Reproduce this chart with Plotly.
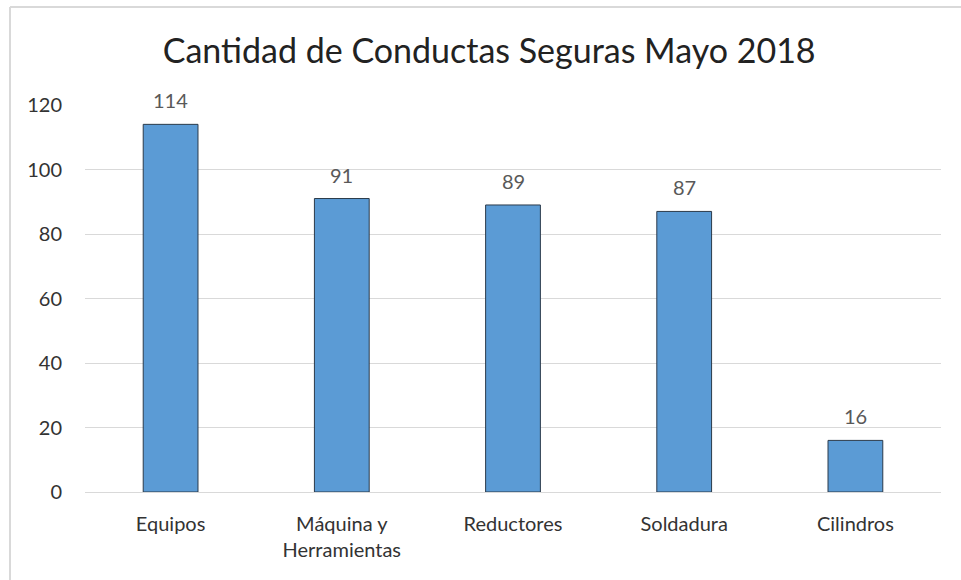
import plotly.graph_objects as go

categories = ["Equipos", "Máquina y<br>Herramientas", "Reductores", "Soldadura", "Cilindros"]
values = [114, 91, 89, 87, 16]
y_ticks = [0, 20, 40, 60, 80, 100, 120]

FONT = "Lato, Calibri, 'Open Sans', sans-serif"

fig = go.Figure(go.Bar(
    x=categories, y=values,
    marker=dict(color="#5B9BD5", line=dict(color="#2B3A4A", width=1)),
    width=0.32,
    cliponaxis=False,
))
for c, v in zip(categories, values):
    fig.add_annotation(x=c, y=v, text=str(v), showarrow=False, yanchor="bottom", yshift=10,
                       font=dict(family=FONT, size=20, color="#595959"))

x0p = (10 - 85) / 856
x1p = (961 - 85) / 856
y0p = (492 - 580) / 387
y1p = (492 - 7) / 387
fig.update_layout(
    width=961, height=580,
    margin=dict(l=85, r=20, t=105, b=88),
    paper_bgcolor="white", plot_bgcolor="white",
    title=dict(text="Cantidad de Conductas Seguras Mayo 2018", x=0.509, xanchor="center",
               y=0.912, yanchor="middle",
               font=dict(family=FONT, size=34, color="#222222")),
    showlegend=False,
    xaxis=dict(showgrid=False, showline=False, ticks="", ticklabelstandoff=18,
               tickfont=dict(family=FONT, size=20, color="#333333")),
    yaxis=dict(range=[0, 120], tickvals=y_ticks, showgrid=True, gridcolor="#D9D9D9", gridwidth=1,
               zeroline=True, zerolinecolor="#D9D9D9", zerolinewidth=1, showline=False, ticks="",
               ticklabelstandoff=22,
               tickfont=dict(family=FONT, size=20, color="#333333")),
    shapes=[
        dict(type="line", xref="paper", yref="paper", x0=x0p, x1=x0p, y0=y0p, y1=y1p,
             line=dict(color="#D9D9D9", width=2), layer="below"),
        dict(type="line", xref="paper", yref="paper", x0=x0p, x1=x1p, y0=y1p, y1=y1p,
             line=dict(color="#D9D9D9", width=2), layer="below"),
    ],
)
fig.write_html("out.html", config={"displayModeBar": False},
               post_script="document.body.style.margin='0';document.body.style.overflow='hidden';")
